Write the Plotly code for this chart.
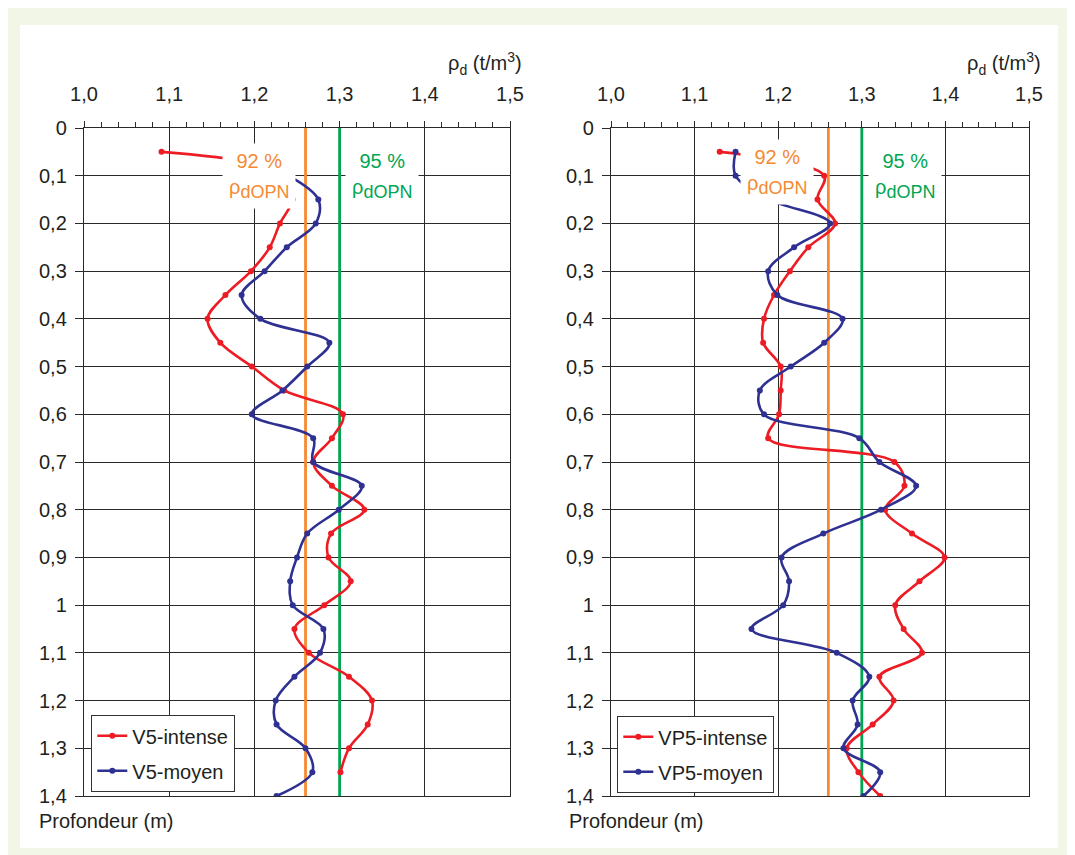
import plotly.graph_objects as go

# ---------------- data ----------------
x_tick_vals = [1.0, 1.1, 1.2, 1.3, 1.4, 1.5]
x_tick_text = ["1,0", "1,1", "1,2", "1,3", "1,4", "1,5"]
y_tick_vals = [0, 0.1, 0.2, 0.3, 0.4, 0.5, 0.6, 0.7, 0.8, 0.9, 1.0, 1.1, 1.2, 1.3, 1.4]
y_tick_text = ["0", "0,1", "0,2", "0,3", "0,4", "0,5", "0,6", "0,7", "0,8", "0,9",
               "1", "1,1", "1,2", "1,3", "1,4"]

# Left panel
v5_intense_depth = [0.05, 0.10, 0.15, 0.20, 0.25, 0.30, 0.35, 0.40, 0.45, 0.50, 0.55, 0.60,
                    0.65, 0.70, 0.75, 0.80, 0.85, 0.90, 0.95, 1.00, 1.05, 1.10, 1.15, 1.20,
                    1.25, 1.30, 1.35]
v5_intense_rho = [1.091, 1.240, 1.245, 1.230, 1.218, 1.196, 1.166, 1.145, 1.160, 1.197, 1.235, 1.304,
                  1.291, 1.269, 1.291, 1.329, 1.290, 1.287, 1.313, 1.282, 1.247, 1.264, 1.311, 1.338,
                  1.333, 1.311, 1.301]

v5_moyen_depth = [0.10, 0.15, 0.20, 0.25, 0.30, 0.35, 0.40, 0.45, 0.50, 0.55, 0.60, 0.65,
                  0.70, 0.75, 0.80, 0.85, 0.90, 0.95, 1.00, 1.05, 1.10, 1.15, 1.20, 1.25,
                  1.30, 1.35, 1.40]
v5_moyen_rho = [1.240, 1.275, 1.272, 1.238, 1.212, 1.185, 1.207, 1.288, 1.262, 1.233, 1.197, 1.269,
                1.269, 1.326, 1.299, 1.262, 1.250, 1.242, 1.245, 1.281, 1.277, 1.247, 1.225, 1.226,
                1.260, 1.268, 1.226]

# Right panel
vp5_intense_depth = [0.05, 0.10, 0.15, 0.20, 0.25, 0.30, 0.35, 0.40, 0.45, 0.50, 0.55, 0.60,
                     0.65, 0.70, 0.75, 0.80, 0.85, 0.90, 0.95, 1.00, 1.05, 1.10, 1.15, 1.20,
                     1.25, 1.30, 1.35, 1.40]
vp5_intense_rho = [1.130, 1.255, 1.247, 1.268, 1.236, 1.214, 1.195, 1.183, 1.182, 1.203, 1.203, 1.201,
                   1.188, 1.339, 1.351, 1.328, 1.360, 1.399, 1.369, 1.340, 1.350, 1.372, 1.321, 1.338,
                   1.313, 1.282, 1.296, 1.322]

vp5_moyen_depth = [0.05, 0.10, 0.15, 0.20, 0.25, 0.30, 0.35, 0.40, 0.45, 0.50, 0.55, 0.60,
                   0.65, 0.70, 0.75, 0.80, 0.85, 0.90, 0.95, 1.00, 1.05, 1.10, 1.15, 1.20,
                   1.25, 1.30, 1.35, 1.40]
vp5_moyen_rho = [1.149, 1.149, 1.190, 1.262, 1.219, 1.188, 1.199, 1.277, 1.255, 1.215, 1.178, 1.183,
                 1.297, 1.321, 1.365, 1.323, 1.254, 1.204, 1.213, 1.206, 1.168, 1.270, 1.309, 1.289,
                 1.295, 1.278, 1.322, 1.302]

threshold_rho = [1.26, 1.30]          # 92 % and 95 % of rho_dOPN
threshold_pct = ["92 %", "95 %"]
depth_range = [0, 1.4]

# ---------------- style ----------------
RED = "#ed1c24"
BLUE = "#2e3192"
ORANGE = "#f58a32"
GREEN = "#00a651"
INK = "#231f20"
GRID = "#2a2a2a"
FONT = "Liberation Sans, Arial, Helvetica, sans-serif"

# page body has an 8px margin: size the figure so it fits the 1075x855 window
OFF = 8
W, H = 1075 - OFF, 855 - OFF


def fx(px):
    """screen x pixel -> paper fraction"""
    return (px - OFF) / W


def fy(py):
    """screen y pixel -> paper fraction"""
    return 1 - (py - OFF) / H


fig = go.Figure()


def add_threshold_lines(xa, ya):
    for val, col in zip(threshold_rho, [ORANGE, GREEN]):
        fig.add_trace(go.Scatter(x=[val, val], y=depth_range, mode="lines",
                                 line=dict(color=col, width=2.8), xaxis=xa, yaxis=ya,
                                 showlegend=False, hoverinfo="skip"))


def add_series(x, y, name, color, xa, ya, legend, group):
    fig.add_trace(go.Scatter(x=x, y=y, name=name, mode="lines+markers",
                             line=dict(color=color, width=2.6, shape="spline", smoothing=1),
                             marker=dict(color=color, size=6),
                             xaxis=xa, yaxis=ya, legend=legend, legendgroup=group))


add_threshold_lines("x", "y")
add_series(v5_intense_rho, v5_intense_depth, "V5-intense", RED, "x", "y", "legend", "a")
add_series(v5_moyen_rho, v5_moyen_depth, "V5-moyen", BLUE, "x", "y", "legend", "b")

add_threshold_lines("x2", "y2")
add_series(vp5_intense_rho, vp5_intense_depth, "VP5-intense", RED, "x2", "y2", "legend2", "c")
add_series(vp5_moyen_rho, vp5_moyen_depth, "VP5-moyen", BLUE, "x2", "y2", "legend2", "d")

y_dom = [fy(796), fy(128)]
left_dom = [fx(84), fx(510)]
right_dom = [fx(611), fx(1029)]


def xaxis_main(dom, anchor):
    return dict(domain=dom, anchor=anchor, side="top", range=[1.0, 1.5],
                tickvals=x_tick_vals, ticktext=x_tick_text,
                ticks="outside", ticklen=6, tickwidth=1.2, tickcolor=GRID,
                minor=dict(dtick=0.02, ticks="outside", ticklen=5, tickwidth=1.1,
                           tickcolor=GRID, showgrid=False),
                showgrid=True, gridcolor=GRID, gridwidth=1.2,
                showline=True, linecolor=GRID, linewidth=1.4, mirror=True,
                zeroline=False, automargin=False,
                tickfont=dict(size=20, color=INK, family=FONT),
                ticklabelstandoff=12, fixedrange=True)


def xaxis_inner(dom, anchor, over):
    return dict(domain=dom, anchor=anchor, side="top", overlaying=over, range=[1.0, 1.5],
                tickvals=x_tick_vals, ticks="inside", ticklen=6, tickwidth=1.2, tickcolor=GRID,
                minor=dict(dtick=0.02, ticks="inside", ticklen=4, tickwidth=1.1,
                           tickcolor=GRID, showgrid=False),
                showgrid=False, showticklabels=False, showline=False, zeroline=False,
                automargin=False)


def yaxis_main(anchor):
    return dict(domain=y_dom, anchor=anchor, range=[1.4, 0],
                tickvals=y_tick_vals, ticktext=y_tick_text,
                ticks="outside", ticklen=8, tickwidth=1.2, tickcolor=GRID,
                showgrid=True, gridcolor=GRID, gridwidth=1.2,
                showline=True, linecolor=GRID, linewidth=1.4, mirror=True,
                zeroline=False, automargin=False,
                tickfont=dict(size=20, color=INK, family=FONT),
                ticklabelstandoff=4)


legend_common = dict(bgcolor="white", bordercolor="#333333", borderwidth=1.3,
                     font=dict(size=20, color=INK, family=FONT),
                     xanchor="left", yanchor="top", tracegroupgap=6,
                     traceorder="grouped", itemwidth=30)

fig.update_layout(
    width=W, height=H, margin=dict(l=0, r=0, t=0, b=0, autoexpand=False),
    paper_bgcolor="#f2f6e7", plot_bgcolor="white",
    font=dict(family=FONT, color=INK, size=20),
    xaxis=xaxis_main(left_dom, "y"),
    yaxis=yaxis_main("x"),
    xaxis2=xaxis_main(right_dom, "y2"),
    yaxis2=yaxis_main("x2"),
    xaxis3=xaxis_inner(left_dom, "y", "x"),
    xaxis4=xaxis_inner(right_dom, "y2", "x2"),
    legend=dict(x=fx(91), y=fy(715), **legend_common),
    legend2=dict(x=fx(617), y=fy(716), **legend_common),
    showlegend=True,
    shapes=[dict(type="rect", xref="paper", yref="paper", layer="below",
                 x0=fx(20), x1=fx(1058), y0=fy(848), y1=fy(25),
                 fillcolor="white", line=dict(width=0))],
)

sub = "<sub><span style='font-size:18px'>dOPN</span></sub>"
labels = [
    # (xref, yref, x, y, text, color)
    ("x", "y", 1.205, 0.10, threshold_pct[0] + "<br>ρ" + sub, ORANGE),
    ("x", "y", 1.350, 0.10, threshold_pct[1] + "<br>ρ" + sub, GREEN),
    ("x2", "y2", 1.199, 0.093, threshold_pct[0] + "<br>ρ" + sub, ORANGE),
    ("x2", "y2", 1.352, 0.10, threshold_pct[1] + "<br>ρ" + sub, GREEN),
]
for xr, yr, xv, yv, txt, col in labels:
    fig.add_annotation(xref=xr, yref=yr, x=xv, y=yv, text=txt, showarrow=False,
                       font=dict(size=20, color=col, family=FONT), bgcolor="white",
                       borderpad=6, align="center")

for xr, yr in [("x domain", "y domain"), ("x2 domain", "y2 domain")]:
    fig.add_annotation(xref=xr, yref=yr, x=1, y=1, xanchor="right", yanchor="bottom",
                       xshift=14, yshift=48, showarrow=False,
                       text="ρ<sub>d</sub> (t/m<sup>3</sup>)",
                       font=dict(size=20, color=INK, family=FONT))

for xp in [37, 567]:
    fig.add_annotation(xref="paper", yref="paper", x=fx(xp), y=fy(821),
                       xanchor="left", yanchor="middle", showarrow=False,
                       text="Profondeur (m)", font=dict(size=20, color=INK, family=FONT))

fig.write_html("out.html")
